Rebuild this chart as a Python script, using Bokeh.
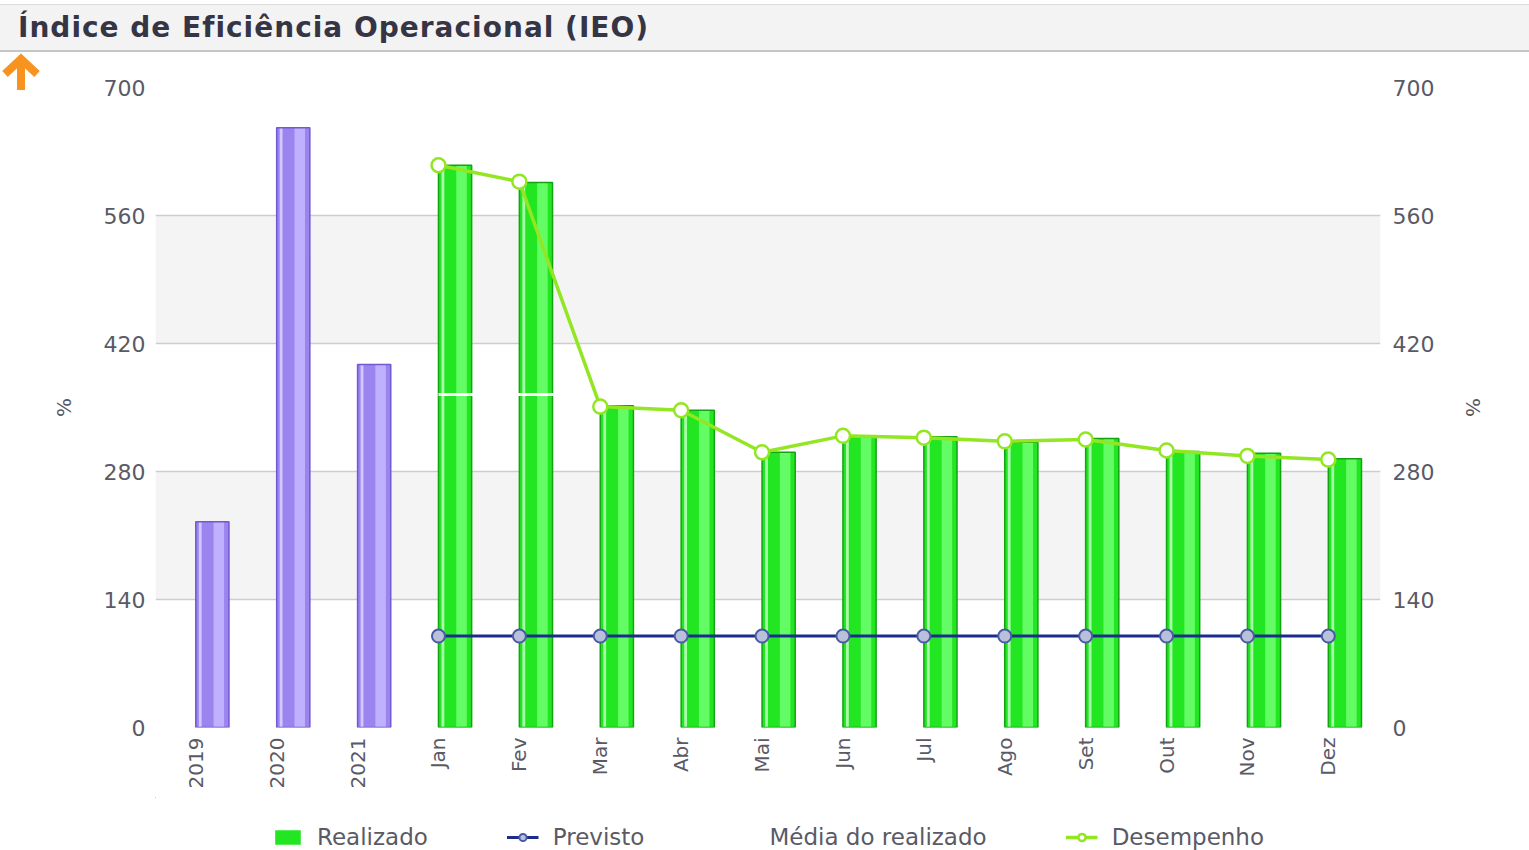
import math
from bokeh.plotting import figure
from bokeh.models import (LinearAxis, FixedTicker, Range1d, Grid, Legend, LegendItem, Div)
from bokeh.layouts import column, row
from bokeh.embed import file_html
from bokeh.resources import INLINE

# ---------------- data ----------------
categories = ["2019", "2020", "2021", "Jan", "Fev", "Mar", "Abr", "Mai", "Jun",
              "Jul", "Ago", "Set", "Out", "Nov", "Dez"]
years = ["2019", "2020", "2021"]
year_values = [225, 656, 397]
months = ["Jan", "Fev", "Mar", "Abr", "Mai", "Jun", "Jul", "Ago", "Set", "Out", "Nov", "Dez"]
realizado = [615, 596, 352, 347, 301, 319, 318, 312, 316, 302, 300, 294]
previsto = [100, 100, 100, 100, 100, 100, 100, 100, 100, 100, 100, 100]
media_realizado = [364.3] * 12
desempenho = [615, 597, 351, 347, 301, 319, 317, 313, 315, 303, 297, 293]
y_ticks = [0, 140, 280, 420, 560, 700]

FONT = "DejaVu Sans"
TXT = "#5a5a66"

xi_years = [categories.index(c) for c in years]
xi_months = [categories.index(c) for c in months]

TOTAL_W, TOTAL_H = 1529, 850
H_HEAD = 52
ARROW_W = 45
FIG_W = TOTAL_W - ARROW_W
BODY_H = TOTAL_H - H_HEAD
MAIN_H = 745
LEG_H = BODY_H - MAIN_H
BL, BR = 110, 149

p = figure(width=FIG_W, height=MAIN_H, output_backend="svg", toolbar_location=None,
           x_range=Range1d(-0.498, 14.645), y_range=Range1d(0, 700),
           min_border_left=BL, min_border_right=BR, min_border_top=35,
           min_border_bottom=MAIN_H - 35 - 640, margin=(0, 0, 0, 0))
p.outline_line_color = None
p.background_fill_color = "white"
p.border_fill_color = "white"

# grid: bands + lines
p.xgrid.visible = False
p.ygrid.ticker = FixedTicker(ticks=y_ticks)
p.ygrid.grid_line_color = None
p.ygrid.band_fill_color = "#f4f4f4"
p.ygrid.band_fill_alpha = 1
p.add_layout(Grid(dimension=1, ticker=FixedTicker(ticks=y_ticks[1:-1]),
                  grid_line_color="#cdcdcd", grid_line_width=1.5), "center")

# axes
def style_axis(ax, size="22px"):
    ax.axis_line_color = None
    ax.major_tick_line_color = None
    ax.minor_tick_line_color = None
    ax.major_tick_out = 0
    ax.major_tick_in = 0
    ax.minor_tick_out = 0
    ax.major_label_text_font = FONT
    ax.major_label_text_font_size = size
    ax.major_label_text_color = TXT
    ax.axis_label_text_font = FONT
    ax.axis_label_text_font_style = "normal"
    ax.axis_label_text_font_size = "20px"
    ax.axis_label_text_color = TXT

yl = p.yaxis[0]
yl.ticker = FixedTicker(ticks=y_ticks)
yl.axis_label = "%"
yl.major_label_standoff = 10
yl.axis_label_standoff = 25
style_axis(yl)

yr = LinearAxis(ticker=FixedTicker(ticks=y_ticks), axis_label="%")
yr.major_label_standoff = 12
yr.axis_label_standoff = 24
style_axis(yr)
p.add_layout(yr, "right")

xa = p.xaxis[0]
xa.ticker = FixedTicker(ticks=list(range(len(categories))))
xa.major_label_overrides = {i: c for i, c in enumerate(categories)}
xa.major_label_orientation = math.pi / 2
xa.major_label_standoff = 10
style_axis(xa, "20px")

# ---------------- bars ----------------
OFF, BW = 0.205, 0.41
yx = [x + OFF for x in xi_years]
mx = [x + OFF for x in xi_months]

def shaded_bars(fig, xs, tops, base, light, mid, edge):
    r = fig.vbar(x=xs, top=tops, width=BW, bottom=0, fill_color=base, line_color=None)
    fig.vbar(x=[x - 0.15 for x in xs], top=tops, width=0.035, bottom=0,
             fill_color=light, line_color=None, fill_alpha=0.9)
    fig.vbar(x=[x + 0.08 for x in xs], top=tops, width=0.13, bottom=0,
             fill_color=mid, line_color=None, fill_alpha=0.85)
    fig.vbar(x=xs, top=tops, width=BW, bottom=0, fill_color=None,
             line_color=edge, line_width=1.5)
    return r

shaded_bars(p, yx, year_values, "#9c84ef", "#d8ceff", "#c6b8ff", "#7258d2")
shaded_bars(p, mx, realizado, "#22e622", "#b8ffb8", "#70ff70", "#13a313")

# ---------------- lines ----------------
def series(fig):
    r_media = fig.line(xi_months, media_realizado, line_color="white", line_width=3)
    r_prev_l = fig.line(xi_months, previsto, line_color="#1c2c8c", line_width=3)
    r_prev_c = fig.scatter(xi_months, previsto, size=13, marker="circle",
                           fill_color="#b9c1da", line_color="#4a5aa6", line_width=2)
    r_des_l = fig.line(xi_months, desempenho, line_color="#93e622", line_width=3.5)
    r_des_c = fig.scatter(xi_months, desempenho, size=14, marker="circle",
                          fill_color="white", line_color="#93e622", line_width=2.5)
    return r_media, r_prev_l, r_prev_c, r_des_l, r_des_c

series(p)

# ---------------- legend strip (same series; ranges keep its marks out of view) ----
lg = figure(width=FIG_W, height=LEG_H, output_backend="svg", toolbar_location=None,
            x_range=Range1d(20, 21), y_range=Range1d(-20, -19),
            x_axis_location=None, y_axis_location=None,
            min_border_left=BL, min_border_right=BR, min_border_top=0,
            min_border_bottom=0, margin=(0, 0, 0, 0))
lg.outline_line_color = None
lg.xgrid.visible = False
lg.ygrid.visible = False
lg_real = lg.vbar(x=mx, top=realizado, width=BW, bottom=0, fill_color="#22e622",
                  line_color=None)
lm, lpl, lpc, ldl, ldc = series(lg)

legend = Legend(items=[
    LegendItem(label="Realizado", renderers=[lg_real]),
    LegendItem(label="Previsto", renderers=[lpl, lpc]),
    LegendItem(label="Média do realizado", renderers=[lm]),
    LegendItem(label="Desempenho", renderers=[ldl, ldc]),
], orientation="horizontal", location="bottom_center")
legend.border_line_color = None
legend.background_fill_alpha = 0
legend.label_text_font = FONT
legend.label_text_font_size = "23px"
legend.label_text_color = TXT
legend.glyph_width = 32
legend.glyph_height = 18
legend.label_standoff = 14
legend.spacing = 79
legend.padding = 2
legend.margin = 0
lg.add_layout(legend)

# ---------------- header & arrow ----------------
header = Div(text=(
    '<div style="width:%dpx;height:%dpx;position:relative;">'
    '<div style="position:absolute;left:0;top:4px;width:%dpx;height:48px;box-sizing:border-box;'
    'background:#f3f3f3;border-top:1px solid #dcdcdc;border-bottom:2px solid #c6c6c6;'
    "font-family:'DejaVu Sans';font-weight:bold;font-size:28px;letter-spacing:1px;color:#353545;"
    'padding-left:18px;line-height:45px;white-space:nowrap;">'
    'Índice de Eficiência Operacional (IEO)</div></div>') % (TOTAL_W, H_HEAD, TOTAL_W),
    width=TOTAL_W, height=H_HEAD, margin=(0, 0, 0, 0))

arrow = Div(text=(
    '<svg width="%d" height="45" style="display:block">'
    '<path d="M21 38 V10" stroke="#f7931e" stroke-width="8" fill="none"/>'
    '<path d="M5 22 L21 7 L37 22" stroke="#f7931e" stroke-width="8" fill="none" '
    'stroke-linejoin="miter"/></svg>') % ARROW_W,
    width=ARROW_W, height=BODY_H, margin=(0, 0, 0, 0))

layout = column(header,
                row(arrow, column(p, lg, spacing=0, margin=(0, 0, 0, 0)),
                    spacing=0, margin=(0, 0, 0, 0)),
                spacing=0, margin=(0, 0, 0, 0))
open("out.html", "w").write(file_html(layout, INLINE))
